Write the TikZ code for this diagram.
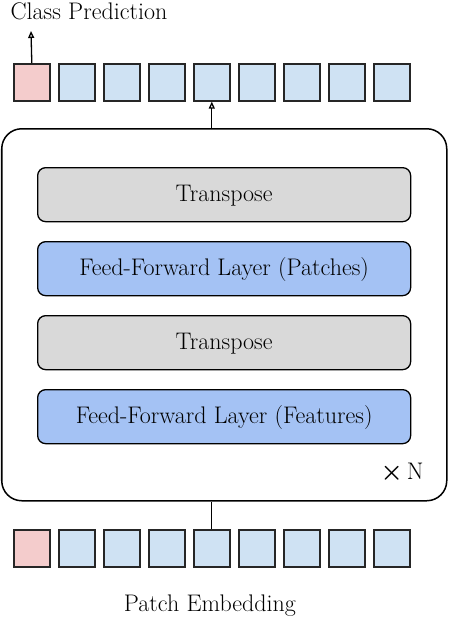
\documentclass[tikz,border=0pt]{standalone}
\usetikzlibrary{arrows.meta}
\definecolor{tokred}{HTML}{F4CCCC}
\definecolor{tokblue}{HTML}{CFE2F3}
\definecolor{tpgray}{HTML}{D9D9D9}
\definecolor{ffblue}{HTML}{A4C2F4}
\begin{document}
\begin{tikzpicture}[x=1pt,y=-1pt,
  tok/.style={draw=black!85,line width=1.6pt,minimum width=36pt,minimum height=37pt,inner sep=0pt,anchor=north west},
  layer/.style={draw=black,line width=1.3pt,rounded corners=8pt,minimum width=373pt,minimum height=54pt,inner sep=0pt,anchor=north west,font=\fontsize{24}{28}\selectfont,text depth=0pt,text height=13pt},
  lbl/.style={font=\fontsize{24}{28}\selectfont,inner sep=0pt},
  arr/.style={line width=1.3pt,-{Triangle[open,length=7pt,width=6pt]}}]
\useasboundingbox (0,0) rectangle (448,622);
% big box
\node[draw=black,line width=1.5pt,rounded corners=20pt,minimum width=445pt,minimum height=372pt,inner sep=0pt,anchor=north west] (big) at (1,128) {};
\node[layer,fill=tpgray] (t1) at (37,167) {Transpose};
\node[layer,fill=ffblue] (ffp) at (37,241) {Feed-Forward Layer (Patches)};
\node[layer,fill=tpgray] (t2) at (37,315) {Transpose};
\node[layer,fill=ffblue] (fff) at (37,389) {Feed-Forward Layer (Features)};
\node[lbl,anchor=base] (xn) at (402,479) {{\fontsize{40}{40}\selectfont\boldmath$\times$}\,N};
% top tokens
\node[tok,fill=tokred] (o0) at (13,63) {};
\foreach \i in {1,...,8}{\node[tok,fill=tokblue] (o\i) at (13+45*\i,63) {};}
% bottom tokens
\node[tok,fill=tokred] (b0) at (13,529) {};
\foreach \i in {1,...,8}{\node[tok,fill=tokblue] (b\i) at (13+45*\i,529) {};}
\node[lbl,anchor=base] (cp) at (89,19) {Class Prediction};
\node[lbl,anchor=base] (pe) at (210,611) {Patch Embedding};
\coordinate (cpa) at (31,31);
\draw[arr] (o0.north) -- (cpa);
\draw[arr] (big.north -| o4.south) -- (o4.south);
\draw[line width=1.3pt] (b4.north) -- (big.south -| b4.north);
\end{tikzpicture}
\end{document}
